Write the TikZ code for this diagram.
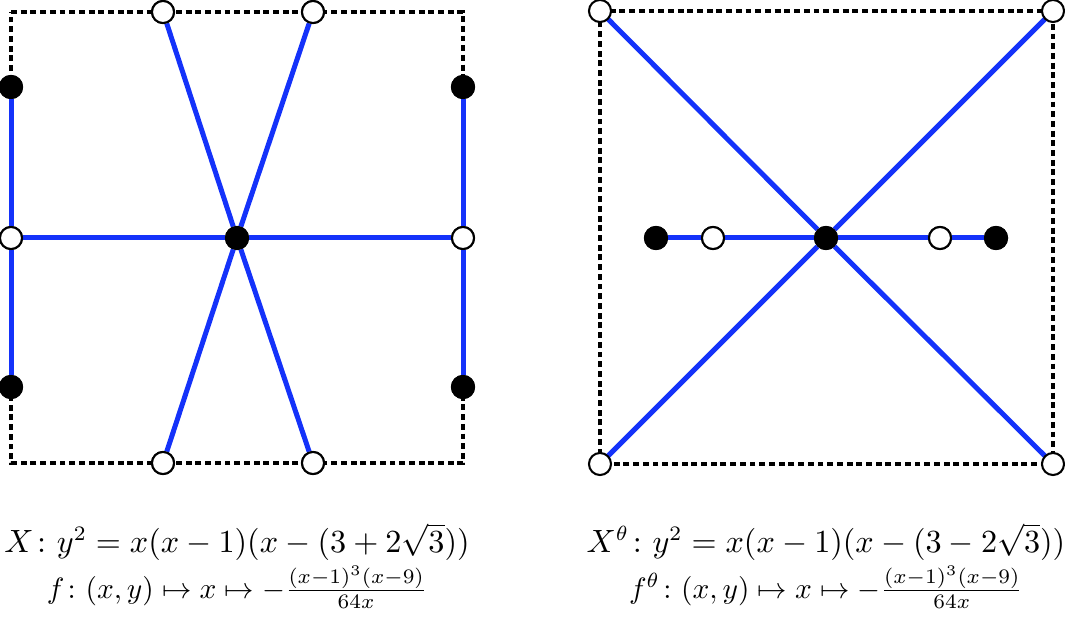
\documentclass[tikz,border=0pt]{standalone}
\usepackage{amsmath}
\begin{document}
\begin{tikzpicture}[x=0.34pt,y=-0.34pt,
  blk/.style={circle,draw,fill=black,line width=0.7pt,minimum size=7.5pt,inner sep=0pt},
  wht/.style={circle,draw,fill=white,line width=0.7pt,minimum size=7.5pt,inner sep=0pt},
  edge/.style={draw,line width=1.7pt,color={rgb,255:red,20;green,50;blue,250}},
  frame/.style={draw,line width=1.1pt,dash pattern=on 2pt off 1.3pt}]
\useasboundingbox (0,0) rectangle (1065,634);
% left square
\coordinate (l1) at (11,12);
\coordinate (l2) at (463,12);
\coordinate (l3) at (463,463);
\coordinate (l4) at (11,463);
\path[frame] (l1) -- (l2) -- (l3) -- (l4) -- cycle;
\node [wht] (ta) at (163,12) {};
\node [wht] (tb) at (313,12) {};
\node [wht] (ba) at (163,463) {};
\node [wht] (bb) at (313,463) {};
\node [blk] (lu) at (11,87) {};
\node [blk] (ld) at (11,387) {};
\node [blk] (ru) at (463,87) {};
\node [blk] (rd) at (463,387) {};
\node [wht] (lm) at (11,238) {};
\node [wht] (rm) at (463,238) {};
\node [blk] (c) at (237,238) {};
\path[edge] (lu) -- (lm) -- (ld);
\path[edge] (ru) -- (rm) -- (rd);
\path[edge] (lm) -- (c) -- (rm);
\path[edge] (ta) -- (c) -- (bb);
\path[edge] (tb) -- (c) -- (ba);
\foreach \n in {ta,tb,ba,bb,lm,rm} \node [wht] at (\n) {};
\foreach \n in {lu,ld,ru,rd,c} \node [blk] at (\n) {};
% right square
\coordinate (r1) at (600,11);
\coordinate (r2) at (1053,11);
\coordinate (r3) at (1053,464);
\coordinate (r4) at (600,464);
\path[frame] (r1) -- (r2) -- (r3) -- (r4) -- cycle;
\node [blk] (cc) at (826,238) {};
\node [blk] (ha) at (656,238) {};
\node [wht] (hb) at (713,238) {};
\node [wht] (hc) at (940,238) {};
\node [blk] (hd) at (996,238) {};
\path[edge] (r1) -- (cc) -- (r3);
\path[edge] (r2) -- (cc) -- (r4);
\path[edge] (ha) -- (hb) -- (cc) -- (hc) -- (hd);
\foreach \n in {r1,r2,r3,r4} \node [wht] at (\n) {};
\foreach \n in {hb,hc} \node [wht] at (\n) {};
\foreach \n in {ha,cc,hd} \node [blk] at (\n) {};
% captions
\node [inner sep=1pt] (eq) at (237,542) {\fontsize{10.6pt}{12pt}\selectfont $X\colon y^2=x(x-1)(x-(3+2\sqrt{3}))$};
\node [inner sep=1pt] (map) at (237,587) {$f\colon (x,y)\mapsto x\mapsto -\frac{(x-1)^3(x-9)}{64x}$};
\node [inner sep=1pt] (eqt) at (826,542) {\fontsize{10.6pt}{12pt}\selectfont $X^\theta\colon y^2=x(x-1)(x-(3-2\sqrt{3}))$};
\node [inner sep=1pt] (mapt) at (826,587) {$f^\theta\colon (x,y)\mapsto x\mapsto -\frac{(x-1)^3(x-9)}{64x}$};
\end{tikzpicture}
\end{document}
